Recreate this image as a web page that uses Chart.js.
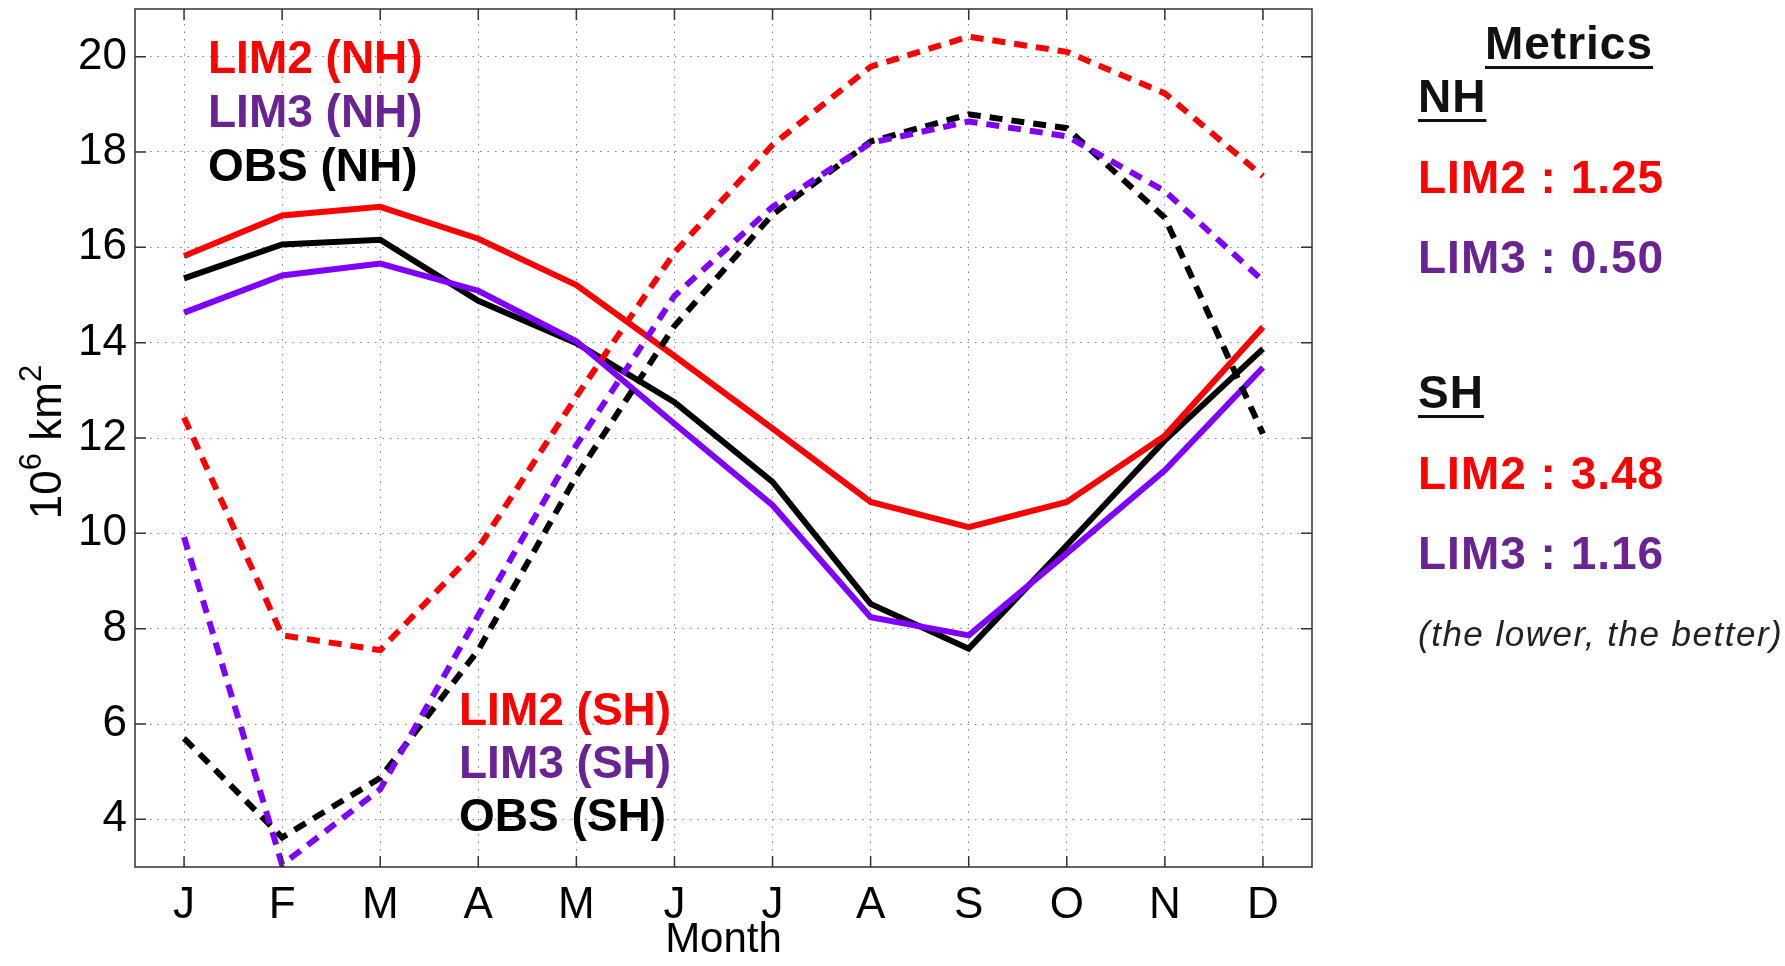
<!DOCTYPE html>
<html>
<head>
<meta charset="utf-8">
<script src="https://cdn.jsdelivr.net/npm/chart.js@4.4.0/dist/chart.umd.min.js"></script>
<style>
  html, body { margin: 0; padding: 0; background: #fff; }
  #wrap { width: 1785px; height: 966px; }
</style>
</head>
<body>
<div id="wrap"><canvas id="seaIceChart" width="1785" height="966"></canvas></div>
<script>
// month labels and y ticks
const months = ['J', 'F', 'M', 'A', 'M', 'J', 'J', 'A', 'S', 'O', 'N', 'D'];
const yTicks = [4, 6, 8, 10, 12, 14, 16, 18, 20];

// sea ice extent, 10^6 km2
const lim2NH = [15.82, 16.67, 16.85, 16.18, 15.21, 13.72, 12.2, 10.66, 10.13, 10.66, 12.05, 14.33];
const lim3NH = [14.63, 15.41, 15.66, 15.09, 14.03, 12.3, 10.59, 8.24, 7.86, 9.58, 11.32, 13.48];
const obsNH = [15.35, 16.06, 16.16, 14.88, 13.99, 12.75, 11.08, 8.52, 7.58, 9.75, 11.95, 13.87];
const lim2SH = [12.43, 7.86, 7.55, 9.69, 12.87, 15.89, 18.15, 19.79, 20.42, 20.1, 19.23, 17.49];
const lim3SH = [9.92, 3.05, 4.63, 8.28, 11.85, 14.98, 16.85, 18.19, 18.64, 18.33, 17.18, 15.3];
const obsSH = [5.7, 3.62, 4.87, 7.55, 11.2, 14.35, 16.69, 18.22, 18.79, 18.5, 16.62, 12.09];

// metrics
const metricsNH = [['LIM2 : 1.25', '#ff0000'], ['LIM3 : 0.50', '#6a2392']];
const metricsSH = [['LIM2 : 3.48', '#ff0000'], ['LIM3 : 1.16', '#6a2392']];

const RED = '#ff0000';
const VIOLET = '#7f00ff';
const PURPLE_TXT = '#6a2392';
const FONT = '"Liberation Sans", Arial, Helvetica, sans-serif';

function linea(label, data, color, dashed) {
    return {
        label: label,
        data: data,
        borderColor: color,
        backgroundColor: color,
        borderWidth: 6,
        borderDash: dashed ? [13, 9] : [],
        borderCapStyle: 'butt',
        pointRadius: 0,
        tension: 0,
        fill: false
    };
}

// frame, inner tick marks, legends and metrics panel
const decoraciones = {
    id: 'decoraciones',
    afterDraw(chart) {
        const ctx = chart.ctx;
        const a = chart.chartArea;
        const xs = chart.scales.x;
        const ys = chart.scales.y;

        ctx.save();
        // box
        ctx.setLineDash([]);
        ctx.strokeStyle = '#333';
        ctx.lineWidth = 1.5;
        ctx.strokeRect(a.left, a.top, a.right - a.left, a.bottom - a.top);

        // inner ticks
        const tl = 11;
        ctx.beginPath();
        for (let i = 0; i < months.length; i++) {
            const px = xs.getPixelForValue(i);
            ctx.moveTo(px, a.bottom); ctx.lineTo(px, a.bottom - tl);
            ctx.moveTo(px, a.top); ctx.lineTo(px, a.top + tl);
        }
        yTicks.forEach(v => {
            const py = ys.getPixelForValue(v);
            ctx.moveTo(a.left, py); ctx.lineTo(a.left + tl, py);
            ctx.moveTo(a.right, py); ctx.lineTo(a.right - tl, py);
        });
        ctx.stroke();

        // y axis title with superscripts
        ctx.save();
        ctx.translate(46, (a.top + a.bottom) / 2 + 4);
        ctx.rotate(-Math.PI / 2);
        ctx.fillStyle = '#000';
        ctx.textBaseline = 'alphabetic';
        const big = '44px ' + FONT, small = '31px ' + FONT;
        const parts = [['10', big, 0], ['6', small, -20], [' km', big, 0], ['2', small, -20]];
        let total = 0;
        parts.forEach(p => { ctx.font = p[1]; total += ctx.measureText(p[0]).width; });
        let cx = -total / 2;
        parts.forEach(p => {
            ctx.font = p[1];
            ctx.fillText(p[0], cx, 15 + p[2]);
            cx += ctx.measureText(p[0]).width;
        });
        ctx.restore();

        // in-plot legends
        ctx.font = 'bold 46px ' + FONT;
        ctx.textAlign = 'left';
        ctx.textBaseline = 'middle';
        const legNH = [['LIM2 (NH)', RED], ['LIM3 (NH)', PURPLE_TXT], ['OBS (NH)', '#000']];
        const legSH = [['LIM2 (SH)', RED], ['LIM3 (SH)', PURPLE_TXT], ['OBS (SH)', '#000']];
        legNH.forEach((l, i) => {
            ctx.fillStyle = l[1];
            ctx.fillText(l[0], 208, 60 + i * 54);
        });
        legSH.forEach((l, i) => {
            ctx.fillStyle = l[1];
            ctx.fillText(l[0], 459, 712 + i * 53);
        });

        // metrics panel
        function subrayado(txt, x, y, align) {
            ctx.textAlign = align;
            ctx.fillText(txt, x, y);
            const w = ctx.measureText(txt).width;
            const x0 = align === 'center' ? x - w / 2 : x;
            ctx.fillRect(x0, y + 20, w, 3);
        }
        ctx.fillStyle = '#111';
        ctx.font = 'bold 46px ' + FONT;
        ctx.letterSpacing = '1px';
        subrayado('Metrics', 1569, 46, 'center');
        subrayado('NH', 1418, 99, 'left');
        subrayado('SH', 1418, 395, 'left');

        ctx.textAlign = 'left';
        metricsNH.forEach((m, i) => {
            ctx.fillStyle = m[1];
            ctx.fillText(m[0], 1418, 180 + i * 80);
        });
        metricsSH.forEach((m, i) => {
            ctx.fillStyle = m[1];
            ctx.fillText(m[0], 1418, 476 + i * 80);
        });

        ctx.fillStyle = '#222';
        ctx.font = 'italic 35px ' + FONT;
        ctx.letterSpacing = '1.5px';
        ctx.fillText('(the lower, the better)', 1418, 636);
        ctx.restore();
    }
};

const ctx = document.getElementById('seaIceChart');

new Chart(ctx.getContext('2d'), {
    type: 'line',
    data: {
        labels: months,
        datasets: [
            linea('LIM2 (SH)', lim2SH, RED, true),
            linea('LIM3 (SH)', lim3SH, VIOLET, true),
            linea('OBS (SH)', obsSH, '#000', true),
            linea('LIM2 (NH)', lim2NH, RED, false),
            linea('LIM3 (NH)', lim3NH, VIOLET, false),
            linea('OBS (NH)', obsNH, '#000', false)
        ]
    },
    options: {
        responsive: false,
        animation: false,
        layout: {
            padding: { left: 0, top: 9, right: 473, bottom: 0 }
        },
        plugins: {
            legend: { display: false },
            tooltip: { enabled: false },
            title: { display: false }
        },
        scales: {
            x: {
                type: 'category',
                offset: true,
                afterFit(scale) {
                    scale.height = 99;
                    scale.paddingLeft = 0;
                    scale.paddingRight = 0;
                },
                grid: {
                    offset: false,
                    drawTicks: false,
                    color: '#808080',
                    lineWidth: 1
                },
                border: { display: false, dash: [1.5, 6] },
                ticks: {
                    color: '#000',
                    font: { family: FONT, size: 44 },
                    padding: 12,
                    maxRotation: 0,
                    autoSkip: false
                },
                title: {
                    display: true,
                    text: 'Month',
                    color: '#000',
                    font: { family: FONT, size: 42 },
                    padding: { top: -14, bottom: 0 }
                }
            },
            y: {
                min: 3,
                max: 21,
                afterFit(scale) {
                    scale.width = 135;
                    scale.paddingTop = 0;
                    scale.paddingBottom = 0;
                },
                afterBuildTicks(scale) {
                    scale.ticks = yTicks.map(v => ({ value: v }));
                },
                grid: {
                    drawTicks: false,
                    color: '#808080',
                    lineWidth: 1
                },
                border: { display: false, dash: [1.5, 6] },
                ticks: {
                    color: '#000',
                    font: { family: FONT, size: 44 },
                    padding: 8
                }
            }
        }
    },
    plugins: [decoraciones]
});
</script>
</body>
</html>
